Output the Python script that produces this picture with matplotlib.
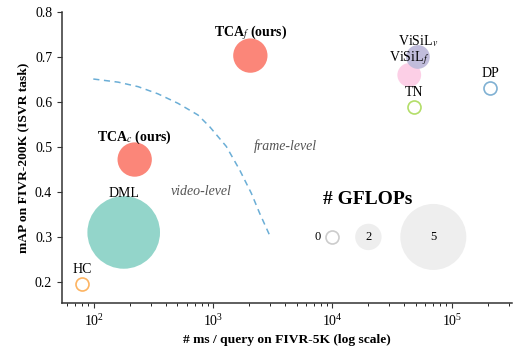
import matplotlib
matplotlib.use("Agg")
import matplotlib.pyplot as plt
import numpy as np

plt.rcParams['font.family'] = 'serif'
plt.rcParams['font.serif'] = ['Liberation Serif', 'DejaVu Serif']
plt.rcParams['mathtext.fontset'] = 'stix'

# methods: ms/query, mAP, GFLOPs (0 = hollow marker)
names = ['HC', 'DML', r'TCA$_c$ (ours)', r'TCA$_f$ (ours)', r'ViSiL$_v$', r'ViSiL$_f$', 'TN', 'DP']
ms_query = [80, 178, 220, 2050, 52000, 44000, 48000, 209000]
mAP = [0.195, 0.310, 0.472, 0.703, 0.700, 0.660, 0.588, 0.632]
gflops = [0, 5.5, 2.6, 2.6, 1.8, 1.8, 0, 0]
colors = ['#fdb462', '#8dd3c7', '#fb8072', '#fb8072', '#bebada', '#fccde5', '#b3de69', '#80b1d3']
bold = [False, False, True, True, False, False, False, False]

# legend bubbles
leg_gflops = [0, 2, 5]
leg_x = [10000, 20000, 70000]
leg_y = 0.30

# dashed boundary between video-level and frame-level
curve_x = [99, 160, 235, 345, 507, 746, 935, 1290, 1667, 2090, 2450, 2970]
curve_y = [0.651, 0.644, 0.634, 0.618, 0.597, 0.571, 0.545, 0.501, 0.449, 0.397, 0.353, 0.304]

dpi = 100
px2pt = 72.0 / dpi


def radius_px(g):
    return 6.6 * g if g > 0 else 6.5


def msize(g):
    return (2 * radius_px(g) * px2pt) ** 2


fig = plt.figure(figsize=(5.29, 3.52), dpi=dpi)
ax = fig.add_axes([0.117, 0.139, 0.851, 0.827])
ax.set_xscale('log')
ax.set_xlim(54, 3.2e5)
ax.set_ylim(0.153, 0.8)

ax.plot(curve_x, curve_y, '--', color='#6baed6', lw=1.1, dashes=(4, 3))

order = [1, 2, 3, 5, 4, 0, 6, 7]
for i in order:
    g = gflops[i]
    if g > 0:
        ax.scatter(ms_query[i], mAP[i], s=msize(g), color=colors[i], alpha=0.95,
                   edgecolors='none', zorder=3)
        off = radius_px(g) * px2pt - 2.5
    else:
        ax.scatter(ms_query[i], mAP[i], s=msize(g), facecolors='white',
                   edgecolors=colors[i], linewidths=1.2, zorder=3)
        off = radius_px(g) * px2pt + 1
    ax.annotate(names[i], (ms_query[i], mAP[i]), xytext=(0, off),
                textcoords='offset points', ha='center', va='bottom',
                fontsize=10, fontweight='bold' if bold[i] else 'normal', zorder=4)

# GFLOPs legend
for g, x in zip(leg_gflops, leg_x):
    if g > 0:
        ax.scatter(x, leg_y, s=msize(g), color='#eeeeee', edgecolors='none', zorder=2)
        ax.text(x, leg_y, str(g), ha='center', va='center', fontsize=9)
    else:
        ax.scatter(x, leg_y, s=msize(g), facecolors='white', edgecolors='#cccccc',
                   linewidths=1.2, zorder=2)
        ax.annotate(str(g), (x, leg_y), xytext=(-11, 0), textcoords='offset points',
                    ha='center', va='center', fontsize=9)
ax.text(19600, 0.384, '# GFLOPs', ha='center', va='center', fontsize=14, fontweight='bold')

ax.text(4050, 0.502, 'frame-level', style='italic', color='#555555', fontsize=10,
        ha='center', va='center')
ax.text(800, 0.402, 'video-level', style='italic', color='#555555', fontsize=10,
        ha='center', va='center')

for s in ['top', 'right']:
    ax.spines[s].set_visible(False)
for s in ['left', 'bottom']:
    ax.spines[s].set_linewidth(1.1)
    ax.spines[s].set_color('#333333')
ax.set_yticks([0.2, 0.3, 0.4, 0.5, 0.6, 0.7, 0.8])
ax.tick_params(labelsize=10, color='#333333')
ax.set_xlabel('# ms / query on FIVR-5K (log scale)', fontsize=9.7, fontweight='bold')
ax.set_ylabel('mAP on FIVR-200K (ISVR task)', fontsize=9.7, fontweight='bold')

fig.savefig('out.png', dpi=dpi)
